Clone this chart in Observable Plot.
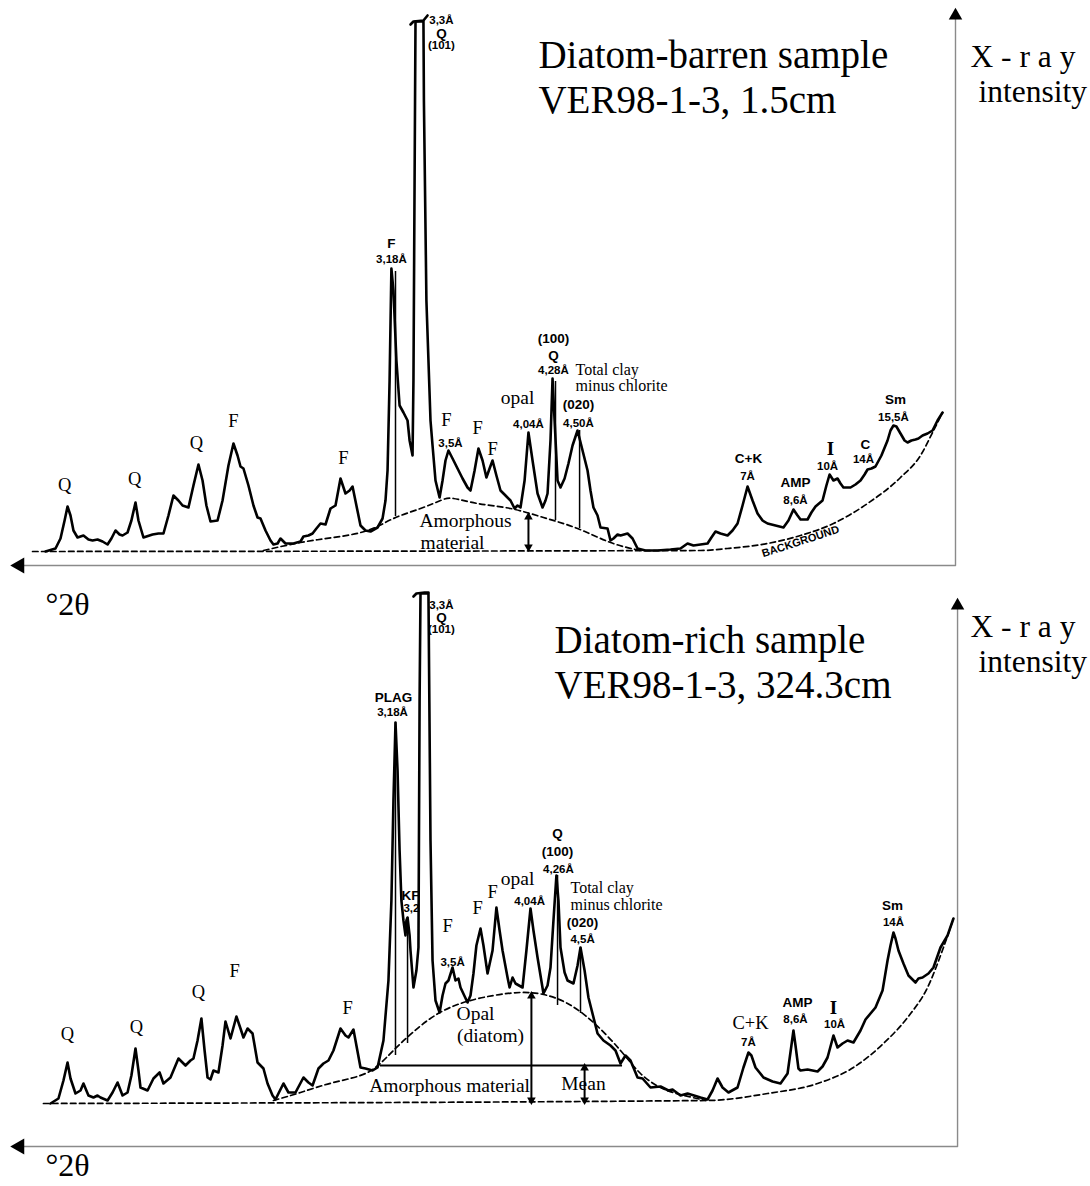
<!DOCTYPE html>
<html><head><meta charset="utf-8">
<script src="https://cdn.jsdelivr.net/npm/d3@7"></script>
<script src="https://cdn.jsdelivr.net/npm/@observablehq/plot@0.6"></script>
<style>
html,body{margin:0;padding:0;background:#fff;}
#wrap{position:relative;width:1090px;height:1186px;overflow:hidden;background:#fff;}
#wrap svg{position:absolute;left:0;}
</style></head><body><div id="wrap"></div>
<script>
// ---------- data: [°2θ, intensity] ----------
const barrenTrace = [[43.02,0],[42.58,3],[42.36,13],[42.18,31],[42.05,45],[41.92,36],[41.79,21],[41.61,14],[41.35,16],[41.13,12],[40.95,11],[40.73,12],[40.51,10],[40.29,7],[40.12,13],[39.94,21],[39.76,17],[39.63,16],[39.41,19],[39.24,31],[39.06,49],[38.93,31],[38.71,14],[38.31,17],[38.05,18],[37.83,18],[37.61,36],[37.39,56],[37.17,51],[36.99,46],[36.73,44],[36.51,66],[36.29,87],[36.11,71],[35.94,46],[35.76,30],[35.45,31],[35.23,51],[34.97,86],[34.75,108],[34.57,96],[34.44,85],[34.31,83],[34.09,66],[33.87,46],[33.69,34],[33.56,33],[33.34,21],[33.12,11],[32.99,7],[32.81,8],[32.68,13],[32.46,8],[32.11,8],[31.8,10],[31.67,15],[31.45,16],[31.27,18],[31.10,23],[30.92,28],[30.7,27],[30.48,43],[30.26,46],[30.04,73],[29.82,58],[29.64,61],[29.51,65],[29.34,46],[29.16,26],[28.94,21],[28.72,20],[28.41,24],[28.19,33],[28.06,51],[27.97,81],[27.88,171],[27.80,283],[27.71,261],[27.58,191],[27.44,146],[27.27,139],[27.09,131],[27.00,111],[26.87,96],[26.83,171],[26.76,451],[26.74,530],[26.39,530],[26.37,451],[26.26,251],[26.08,131],[25.99,106],[25.86,71],[25.68,54],[25.55,71],[25.42,91],[25.29,101],[25.11,93],[24.89,83],[24.67,73],[24.45,64],[24.32,61],[24.14,81],[23.97,103],[23.79,91],[23.62,74],[23.48,83],[23.35,91],[23.18,76],[23.0,61],[22.78,56],[22.56,51],[22.38,43],[22.25,46],[22.12,44],[21.94,71],[21.77,119],[21.59,91],[21.37,58],[21.15,44],[21.02,51],[20.93,58],[20.8,111],[20.71,173],[20.62,131],[20.49,71],[20.36,64],[20.18,73],[20.01,88],[19.83,106],[19.61,121],[19.39,101],[19.17,81],[19.04,61],[18.91,44],[18.73,36],[18.6,24],[18.29,23],[18.16,11],[18.03,13],[17.85,17],[17.72,16],[17.41,18],[17.19,13],[16.97,3],[16.62,1],[16.09,1],[15.52,2],[15.08,3],[14.77,8],[14.51,6],[14.2,7],[13.89,8],[13.72,14],[13.54,20],[13.32,18],[13.01,16],[12.79,21],[12.57,28],[12.35,46],[12.13,65],[11.91,51],[11.69,38],[11.47,31],[11.25,28],[10.9,26],[10.55,24],[10.33,31],[10.11,42],[9.93,36],[9.8,32],[9.49,32],[9.32,39],[9.14,45],[8.83,51],[8.66,66],[8.52,77],[8.35,71],[8.17,73],[8.04,68],[7.91,64],[7.6,64],[7.38,67],[7.16,71],[6.98,77],[6.85,82],[6.68,83],[6.5,85],[6.24,96],[5.97,111],[5.84,121],[5.71,126],[5.58,125],[5.4,118],[5.22,111],[5.09,109],[4.92,111],[4.74,112],[4.61,113],[4.43,116],[4.21,118],[3.99,121],[3.77,131],[3.55,139]];
const barrenPeakCap = [[26.96,527],[26.83,530],[26.39,531],[26.21,536]];
const barrenBackground = [[43.59,0],[14.2,1],[13.01,3],[11.25,8],[9.8,16],[8.35,28],[6.85,48],[5.4,74],[4.52,96],[3.99,119],[3.55,139]];
const barrenAmorphous = [[33.43,1],[31.8,9],[30.35,14],[28.85,21],[27.71,33],[26.52,43],[25.64,51],[25.07,53],[24.01,48],[22.56,43],[21.11,34],[19.61,23],[18.16,9],[16.84,1]];
const barrenPeakLines = [[27.62,35,280],[20.58,31,170],[19.52,23,121]];
const barrenArrows = [[21.77,2,37]];
const barrenFrame = [[44.16,-14],[2.98,-14],[2.98,536]];

const richTrace = [[42.8,0],[42.45,5],[42.23,23],[42.05,41],[41.92,25],[41.7,10],[41.48,13],[41.35,20],[41.13,8],[40.91,6],[40.73,8],[40.6,6],[40.29,3],[40.07,11],[39.85,21],[39.63,8],[39.41,11],[39.24,28],[39.06,55],[38.93,33],[38.84,16],[38.53,13],[38.27,25],[38.0,31],[37.83,20],[37.52,26],[37.17,45],[36.86,38],[36.64,43],[36.51,45],[36.33,63],[36.16,85],[36.02,53],[35.89,26],[35.76,24],[35.63,33],[35.41,31],[35.23,58],[35.1,82],[34.88,65],[34.62,87],[34.44,75],[34.31,66],[34.13,75],[33.91,70],[33.69,41],[33.43,35],[33.25,20],[33.03,8],[32.9,4],[32.77,10],[32.55,20],[32.33,11],[32.02,11],[31.67,26],[31.45,21],[31.27,18],[31.01,35],[30.79,40],[30.57,43],[30.35,53],[30.04,75],[29.82,68],[29.69,66],[29.47,74],[29.16,36],[28.94,35],[28.63,33],[28.41,36],[28.15,63],[27.93,123],[27.80,203],[27.71,303],[27.62,381],[27.53,333],[27.44,253],[27.36,203],[27.27,183],[27.18,168],[27.14,183],[27.09,186],[27.0,168],[26.96,153],[26.83,116],[26.7,133],[26.61,156],[26.56,403],[26.52,510],[26.17,510],[26.08,263],[25.99,143],[25.86,103],[25.68,91],[25.55,108],[25.42,120],[25.29,123],[25.11,136],[24.98,123],[24.85,125],[24.76,116],[24.45,101],[24.32,108],[24.19,130],[24.06,158],[23.88,175],[23.75,158],[23.57,130],[23.35,153],[23.18,196],[23.04,173],[22.91,153],[22.69,126],[22.6,116],[22.47,126],[22.34,120],[22.03,116],[21.86,153],[21.68,195],[21.55,173],[21.37,146],[21.11,110],[20.93,118],[20.8,136],[20.67,183],[20.54,228],[20.45,203],[20.36,156],[20.18,131],[20.05,123],[19.79,120],[19.61,138],[19.48,156],[19.3,133],[19.13,106],[18.73,70],[18.47,63],[18.16,58],[17.94,53],[17.72,40],[17.5,48],[17.28,43],[16.97,26],[16.75,25],[16.4,16],[15.96,17],[15.61,13],[15.43,14],[15.08,8],[14.77,10],[14.2,6],[13.89,4],[13.67,13],[13.45,25],[13.23,16],[12.97,11],[12.57,16],[12.31,36],[12.09,51],[11.96,48],[11.78,36],[11.43,26],[11.03,22],[10.68,20],[10.37,30],[10.2,58],[10.11,73],[10.02,58],[9.89,35],[9.8,33],[9.49,34],[9.05,32],[8.83,37],[8.61,46],[8.35,68],[8.17,56],[7.95,60],[7.73,63],[7.47,61],[7.16,73],[6.94,84],[6.5,96],[6.19,113],[5.97,143],[5.84,158],[5.71,171],[5.62,165],[5.49,153],[5.27,140],[5.05,128],[4.74,121],[4.61,125],[4.43,126],[4.17,130],[3.95,136],[3.64,156],[3.33,168],[3.07,185]];
const richPeakCap = [[26.83,507],[26.7,510],[26.34,511],[26.17,511]];
const richBackground = [[43.11,0],[13.89,3],[11.25,10],[9.05,20],[7.47,36],[6.15,60],[5.09,86],[4.21,116],[3.51,156],[3.07,185]];
const richOpal = [[32.99,3],[31.8,11],[30.35,21],[28.85,31],[27.71,53],[26.21,83],[24.76,100],[23.31,108],[22.12,111],[21.11,109],[20.05,100],[18.91,81],[17.72,53],[16.84,30],[15.96,16],[15.08,9],[13.98,3]];
const richMean = [[28.28,17.63,38]];
const richPeakLines = [[27.62,48,381],[27.09,60,186],[20.49,98,228],[19.48,90,156]];
const richArrows = [[21.64,1,110],[19.3,1,38]];
const richFrame = [[44.16,-43],[2.89,-43],[2.89,498]];

// ---------- annotation texts: [°2θ, intensity, text] ----------
const barrenTitle = [[21.33,496,"Diatom-barren sample"],[21.33,451,"VER98-1-3, 1.5cm"]];
const barrenAxisText = [[2.32,495,"X - r a y"],[1.97,460,"intensity"]];
const barrenAngleText = [[43.02,-53,"°2θ"]];
const barrenSerifLetters = [[42.18,66,"Q"],[39.1,72,"Q"],[36.38,108,"Q"],[34.75,130,"F"],[29.91,93,"F"],[25.38,131,"F"],[24.01,123,"F"],[23.35,102,"F"]];
const barrenSerifWords = [[22.25,154,"opal"],[24.54,31,"Amorphous"],[25.11,9,"material"]];
const barrenClayNote = [[19.7,182,"Total clay"],[19.7,166,"minus chlorite"]];
const barrenBoldBig = [[27.80,308,"F"],[25.6,518,"Q"],[20.67,213,"(100)"],[20.67,196,"Q"],[19.57,147,"(020)"],[12.09,93,"C+K"],[10.02,69,"AMP"],[6.94,107,"C"],[5.62,152,"Sm"]];
const barrenBoldSmall = [[27.80,292,"3,18Å"],[25.6,531,"3,3Å"],[25.6,506,"(101)"],[25.2,108,"3,5Å"],[21.77,127,"4,04Å"],[20.67,181,"4,28Å"],[19.57,128,"4,50Å"],[12.13,75,"7Å"],[10.02,51,"8,6Å"],[8.61,85,"10Å"],[7.03,92,"14Å"],[5.71,134,"15,5Å"]];
const barrenSerifBold = [[8.48,103,"I"]];
const barrenRotated = [[9.8,10,"BACKGROUND"]];

const richTitle = [[20.62,463,"Diatom-rich sample"],[20.62,418,"VER98-1-3, 324.3cm"]];
const richAxisText = [[2.32,477,"X - r a y"],[1.97,442,"intensity"]];
const richAngleText = [[43.02,-62,"°2θ"]];
const richSerifLetters = [[42.05,69,"Q"],[39.02,76,"Q"],[36.29,111,"Q"],[34.7,132,"F"],[29.73,95,"F"],[25.33,177,"F"],[24.01,195,"F"],[23.35,211,"F"],[12.0,80,"C+K"]];
const richSerifWords = [[22.25,225,"opal"],[24.1,90,"Opal"],[23.44,68,"(diatom)"],[25.24,18,"Amorphous material"],[19.35,20,"Mean"]];
const richClayNote = [[19.92,216,"Total clay"],[19.92,199,"minus chlorite"]];
const richBoldBig = [[27.71,406,"PLAG"],[26.96,208,"KF"],[25.6,486,"Q"],[20.49,270,"Q"],[20.49,252,"(100)"],[19.39,181,"(020)"],[9.93,101,"AMP"],[5.75,198,"Sm"]];
const richBoldSmall = [[27.75,391,"3,18Å"],[26.92,195,"3,2"],[25.6,498,"3,3Å"],[25.6,474,"(101)"],[25.11,141,"3,5Å"],[21.72,202,"4,04Å"],[20.45,234,"4,26Å"],[19.39,164,"4,5Å"],[12.09,61,"7Å"],[10.02,84,"8,6Å"],[8.3,79,"10Å"],[5.71,181,"14Å"]];
const richSerifBold = [[8.35,96,"I"]];

// ---------- drawing ----------
const SERIF = "'Liberation Serif','Times New Roman',serif";
const SANS = "'Liberation Sans',Arial,sans-serif";
const X = d => d[0], Y = d => d[1], T = d => d[2];

function panel(p) {
  const txt = (data, o) => Plot.text(data, {x: X, y: Y, text: T, fill: "black", ...o});
  const marks = [
    Plot.line(p.frame, {x: X, y: Y, stroke: "#8a8a8a", strokeWidth: 1.4}),
    Plot.dot([p.frame[0]], {x: X, y: Y, symbol: "triangle", r: 6, fill: "black", stroke: "none", rotate: -90}),
    Plot.dot([p.frame[2]], {x: X, y: Y, symbol: "triangle", r: 5, fill: "black", stroke: "none"}),
    Plot.line(p.background, {x: X, y: Y, stroke: "black", strokeWidth: 1.7, strokeDasharray: "5.5,3.5", curve: "monotone-x"}),
    Plot.line(p.hump, {x: X, y: Y, stroke: "black", strokeWidth: 1.7, strokeDasharray: "5.5,3.5", curve: "natural"}),
    Plot.ruleX(p.peakLines, {x: X, y1: Y, y2: T, stroke: "black", strokeWidth: 1.5}),
    Plot.ruleX(p.arrows, {x: X, y1: d => d[1] + 3, y2: d => d[2] - 3, stroke: "black", strokeWidth: 2}),
    Plot.dot(p.arrows, {x: X, y: d => d[2] - 2.5, symbol: "triangle", r: 3.2, fill: "black", stroke: "none"}),
    Plot.dot(p.arrows, {x: X, y: d => d[1] + 2.5, symbol: "triangle", r: 3.2, fill: "black", stroke: "none", rotate: 180}),
    Plot.line(p.trace, {x: X, y: Y, stroke: "black", strokeWidth: 2.6, strokeLinejoin: "round", curve: "linear"}),
    Plot.line(p.cap, {x: X, y: Y, stroke: "black", strokeWidth: 2.6}),
    txt(p.title, {textAnchor: "start", fontFamily: SERIF, fontSize: 39}),
    txt(p.axisText, {textAnchor: "start", fontFamily: SERIF, fontSize: 31.5}),
    txt(p.angleText, {textAnchor: "start", fontFamily: SERIF, fontSize: 32}),
    txt(p.serifLetters, {fontFamily: SERIF, fontSize: 18.5}),
    txt(p.serifWords, {fontFamily: SERIF, fontSize: 19.5}),
    txt(p.clay, {textAnchor: "start", fontFamily: SERIF, fontSize: 16}),
    txt(p.boldBig, {fontFamily: SANS, fontSize: 13.5, fontWeight: "bold"}),
    txt(p.boldSmall, {fontFamily: SANS, fontSize: 11.5, fontWeight: "bold"}),
    txt(p.serifBold, {fontFamily: SERIF, fontSize: 19, fontWeight: "bold"})
  ];
  if (p.mean) marks.push(Plot.ruleY(p.mean, {x1: X, x2: Y, y: T, stroke: "black", strokeWidth: 2.2}));
  if (p.rotated) marks.push(txt(p.rotated, {fontFamily: SANS, fontSize: 11, fontWeight: "bold", rotate: -18}));
  const svg = Plot.plot({
    width: 1090, height: p.height,
    marginTop: 0, marginBottom: 0, marginLeft: 0, marginRight: 0,
    style: {background: "transparent", overflow: "visible"},
    x: {domain: [44, 3], range: [22.727, 954.545], axis: null},
    y: {domain: [0, p.base], range: [p.base, 0], axis: null},
    marks
  });
  svg.style.top = p.top + "px";
  return svg;
}

const wrap = document.getElementById("wrap");
wrap.appendChild(panel({
  top: 0, height: 625, base: 551,
  trace: barrenTrace, cap: barrenPeakCap, background: barrenBackground, hump: barrenAmorphous,
  peakLines: barrenPeakLines, arrows: barrenArrows, frame: barrenFrame,
  title: barrenTitle, axisText: barrenAxisText, angleText: barrenAngleText, serifLetters: barrenSerifLetters, serifWords: barrenSerifWords,
  clay: barrenClayNote, boldBig: barrenBoldBig, boldSmall: barrenBoldSmall, serifBold: barrenSerifBold,
  rotated: barrenRotated
}));
wrap.appendChild(panel({
  top: 585, height: 601, base: 518,
  trace: richTrace, cap: richPeakCap, background: richBackground, hump: richOpal,
  peakLines: richPeakLines, arrows: richArrows, frame: richFrame, mean: richMean,
  title: richTitle, axisText: richAxisText, angleText: richAngleText, serifLetters: richSerifLetters, serifWords: richSerifWords,
  clay: richClayNote, boldBig: richBoldBig, boldSmall: richBoldSmall, serifBold: richSerifBold
}));
</script>
</body></html>
